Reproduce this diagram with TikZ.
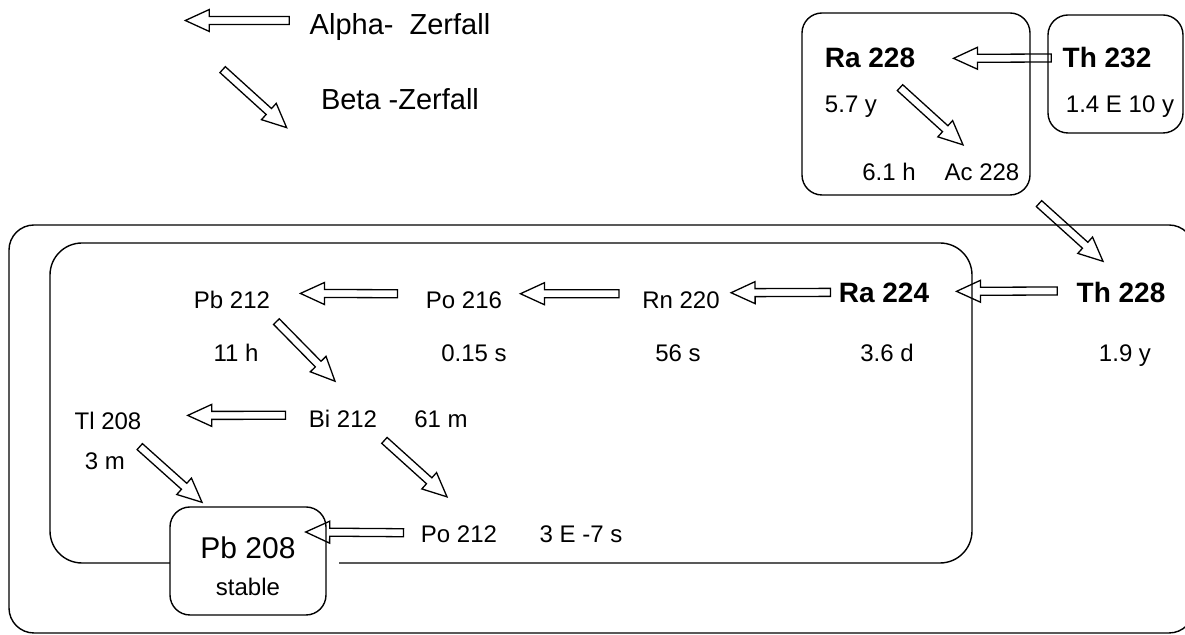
\documentclass[tikz,border=0pt]{standalone}
\usepackage{fontspec}
\setmainfont{Liberation Sans}
\usepackage{tikz}
\usetikzlibrary{calc}

\newcommand{\zerfall}[2]{%
  \coordinate (za) at (#1);
  \coordinate (zb) at (#2);
  \coordinate (zc) at ($(zb)!12pt!(za)$);
  \draw[pfeil] ($(za)!2pt!90:(zb)$) -- ($(zc)!2pt!90:(zb)$) -- ($(zc)!5.5pt!90:(zb)$) -- (zb)
    -- ($(zc)!5.5pt!-90:(zb)$) -- ($(zc)!2pt!-90:(zb)$) -- ($(za)!2pt!-90:(zb)$) -- cycle;
}

\begin{document}
\begin{tikzpicture}[x=0.5pt, y=-0.5pt,
    nuk/.style={anchor=base, inner sep=0pt, font=\fontsize{12}{14}\selectfont},
    mutter/.style={nuk, font=\fontsize{14}{17}\selectfont\bfseries},
    legende/.style={nuk, font=\fontsize{14.5}{17}\selectfont},
    rahmen/.style={line width=0.7pt},
    kasten/.style={draw, line width=0.7pt, rounded corners=10pt, fill=white,
      minimum width=78pt, minimum height=54pt, align=center, inner sep=0pt,
      font=\fontsize{12}{18.5}\selectfont},
    pfeil/.style={draw, line width=0.65pt}]
  \useasboundingbox (0,0) rectangle (1185,635);

  \draw[rahmen, rounded corners=12.5pt] (9,225) rectangle (1194,633);
  \draw[rahmen, rounded corners=16pt] (339,563) -- (972,563) -- (972,243) -- (50,243) -- (50,563) -- (170,563);
  \draw[rahmen, rounded corners=10pt] (802,13) rectangle (1030,195);
  \draw[rahmen, rounded corners=10pt] (1048,15) rectangle (1183,133);

  \node[legende] (alpha) at (400,35) {Alpha- \ Zerfall};
  \node[legende] (beta) at (400,110) {Beta -Zerfall};

  \node[mutter] (ra228) at (870,68) {Ra 228};
  \node[mutter] (th232) at (1107,68) {Th 232};
  \node[nuk] (t-ra228) at (851,113) {5.7 y};
  \node[nuk] (t-th232) at (1120,113) {1.4 E 10 y};
  \node[nuk] (t-ac228) at (889,181) {6.1 h};
  \node[nuk] (ac228) at (982,181) {Ac 228};

  \node[mutter] (th228) at (1121,303) {Th 228};
  \node[mutter] (ra224) at (884,303) {Ra 224};
  \node[nuk] (rn220) at (681,309) {Rn 220};
  \node[nuk] (po216) at (464,309) {Po 216};
  \node[nuk] (pb212) at (232,309) {Pb 212};
  \node[nuk] (t-th228) at (1125,362) {1.9 y};
  \node[nuk] (t-ra224) at (887,362) {3.6 d};
  \node[nuk] (t-rn220) at (678,362) {56 s};
  \node[nuk] (t-po216) at (474,362) {0.15 s};
  \node[nuk] (t-pb212) at (236,362) {11 h};
  \node[nuk] (tl208) at (108,430) {Tl 208};
  \node[nuk] (bi212) at (343,428) {Bi 212};
  \node[nuk] (t-bi212) at (441,428) {61 m};
  \node[nuk] (t-tl208) at (105,470) {3 m};
  \node[nuk] (po212) at (459,543) {Po 212};
  \node[nuk] (t-po212) at (581,543) {3 E -7 s};
  \node[kasten] (pb208) at (248,561) {\rule{0pt}{16pt}{\fontsize{15}{18.5}\selectfont Pb 208}\\stable};

  \zerfall{$(alpha.west)+(-20,-7)$}{$(alpha.west)+(-124,-7)$}
  \zerfall{$(beta.west)+(-98,-30)$}{$(beta.west)+(-34,28)$}
  \zerfall{$(th232.west)+(-11,0)$}{$(ra228.east)+(38,0)$}
  \zerfall{$(ra228.south)+(30,19)$}{$(ac228.north)+(-19,-19)$}
  \zerfall{$(ac228.south)+(57,22)$}{$(th228.north)+(-18,-21)$}
  \zerfall{$(th228.west)+(-19,-2)$}{$(ra224.east)+(27,-2)$}
  \zerfall{$(ra224.west)+(-8,-1)$}{$(rn220.east)+(11,-8)$}
  \zerfall{$(rn220.west)+(-23,-7)$}{$(po216.east)+(18,-7)$}
  \zerfall{$(po216.west)+(-28,-7)$}{$(pb212.east)+(30,-7)$}
  \zerfall{$(pb212.south east)+(6,12)$}{$(bi212.north)+(-8,-29)$}
  \zerfall{$(bi212.west)+(-23,-4)$}{$(tl208.east)+(46,-6)$}
  \zerfall{$(bi212.south east)+(7,12)$}{$(po212.north)+(-12,-29)$}
  \zerfall{$(tl208.south east)+(-2,16)$}{$(pb208.north)+(-46,-4)$}
  \zerfall{$(po212.west)+(-17,-2)$}{$(pb208.east)+(-21,-29)$}
\end{tikzpicture}
\end{document}
